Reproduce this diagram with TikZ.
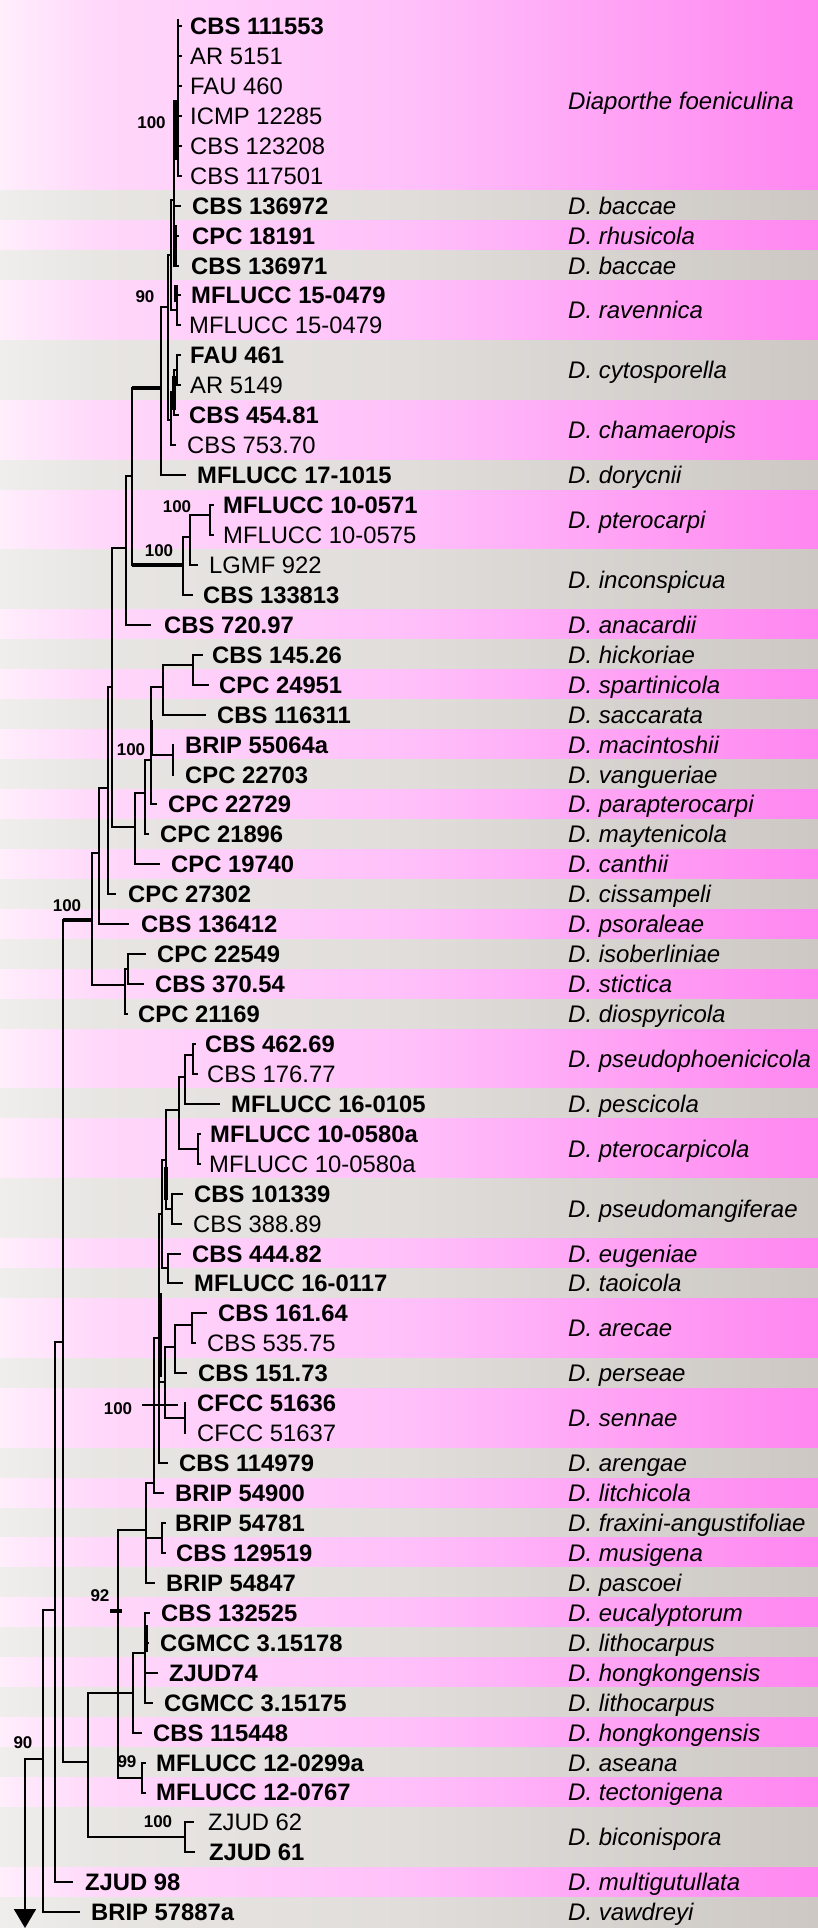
\documentclass[tikz,border=0pt]{standalone}
\usepackage{fontspec}
\setmainfont{Liberation Sans}
\usetikzlibrary{arrows.meta}
\definecolor{pkA}{RGB}{255,238,252}
\definecolor{pkB}{RGB}{255,216,250}
\definecolor{pkC}{RGB}{255,192,250}
\definecolor{pkD}{RGB}{255,134,240}
\definecolor{gyA}{RGB}{240,238,236}
\definecolor{gyB}{RGB}{232,230,227}
\definecolor{gyC}{RGB}{224,221,218}
\definecolor{gyD}{RGB}{205,200,196}
\pgfdeclarehorizontalshading{pinkband}{100bp}{color(0bp)=(pkA); color(25bp)=(pkA); color(31bp)=(pkB); color(50bp)=(pkC); color(75bp)=(pkD); color(100bp)=(pkD)}
\pgfdeclarehorizontalshading{grayband}{100bp}{color(0bp)=(gyA); color(25bp)=(gyA); color(31bp)=(gyB); color(50bp)=(gyC); color(75bp)=(gyD); color(100bp)=(gyD)}
\tikzset{
  br/.style={line width=1.8pt, line cap=rect},
  thk/.style={line width=4.5pt},
  tip/.style={anchor=base west, inner sep=0pt, font=\fontsize{23.8}{23.8}\selectfont},
  sp/.style={anchor=base west, inner sep=0pt, font=\fontsize{24}{24}\selectfont\itshape},
  bs/.style={anchor=base, inner sep=0pt, font=\fontsize{17}{17}\selectfont\bfseries},
}
\newcommand\vbr[3]{\draw[br] (#1,#2) -- (#1,#3);}
\newcommand\hbr[3]{\draw[br] (#1,#2) -- (#3,#2);}
\begin{document}
\begin{tikzpicture}[x=1pt,y=-1pt]
\useasboundingbox (0,0) rectangle (818,1928);
% background bands
\foreach \a/\b [count=\k] in {1/6,7/7,8/8,9/9,10/11,12/13,14/15,16/16,17/18,19/20,21/21,22/22,23/23,24/24,25/25,26/26,27/27,28/28,29/29,30/30,31/31,32/32,33/33,34/34,35/36,37/37,38/39,40/41,42/42,43/43,44/45,46/46,47/48,49/49,50/50,51/51,52/52,53/53,54/54,55/55,56/56,57/57,58/58,59/59,60/60,61/62,63/63,64/64}{
  \pgfmathsetmacro\yt{(\a==1)?0:(11.03+(\a-1)*29.94)}
  \pgfmathsetmacro\yb{(\b==64)?1928:(40.97+(\b-1)*29.94)}
  \ifodd\k
    \shade[shading=pinkband] (0,\yt) rectangle (818,\yb);
  \else
    \shade[shading=grayband] (0,\yt) rectangle (818,\yb);
  \fi
}
% species names
\foreach \a/\b/\s in {1/6/Diaporthe foeniculina,7/7/D. baccae,8/8/D. rhusicola,9/9/D. baccae,10/11/D. ravennica,12/13/D. cytosporella,14/15/D. chamaeropis,16/16/D. dorycnii,17/18/D. pterocarpi,19/20/D. inconspicua,21/21/D. anacardii,22/22/D. hickoriae,23/23/D. spartinicola,24/24/D. saccarata,25/25/D. macintoshii,26/26/D. vangueriae,27/27/D. parapterocarpi,28/28/D. maytenicola,29/29/D. canthii,30/30/D. cissampeli,31/31/D. psoraleae,32/32/D. isoberliniae,33/33/D. stictica,34/34/D. diospyricola,35/36/D. pseudophoenicicola,37/37/D. pescicola,38/39/D. pterocarpicola,40/41/D. pseudomangiferae,42/42/D. eugeniae,43/43/D. taoicola,44/45/D. arecae,46/46/D. perseae,47/48/D. sennae,49/49/D. arengae,50/50/D. litchicola,51/51/D. fraxini-angustifoliae,52/52/D. musigena,53/53/D. pascoei,54/54/D. eucalyptorum,55/55/D. lithocarpus,56/56/D. hongkongensis,57/57/D. lithocarpus,58/58/D. hongkongensis,59/59/D. aseana,60/60/D. tectonigena,61/62/D. biconispora,63/63/D. multigutullata,64/64/D. vawdreyi}{
  \pgfmathsetmacro\ym{26+((\a+\b)/2-1)*29.94+8.5}
  \node[sp] (sp\a) at (568,\ym) {\s};
}
% tip labels
\foreach \r/\x/\w/\t in {1/190/\bfseries/CBS 111553,2/190/\mdseries/AR 5151,3/190/\mdseries/FAU 460,4/190/\mdseries/ICMP 12285,5/190/\mdseries/CBS 123208,6/190/\mdseries/CBS 117501,7/192/\bfseries/CBS 136972,8/192/\bfseries/CPC 18191,9/191/\bfseries/CBS 136971,10/191/\bfseries/MFLUCC 15-0479,11/189/\mdseries/MFLUCC 15-0479,12/190/\bfseries/FAU 461,13/190/\mdseries/AR 5149,14/189/\bfseries/CBS 454.81,15/187/\mdseries/CBS 753.70,16/197/\bfseries/MFLUCC 17-1015,17/223/\bfseries/MFLUCC 10-0571,18/223/\mdseries/MFLUCC 10-0575,19/209/\mdseries/LGMF 922,20/203/\bfseries/CBS 133813,21/164/\bfseries/CBS 720.97,22/212/\bfseries/CBS 145.26,23/219/\bfseries/CPC 24951,24/217/\bfseries/CBS 116311,25/185/\bfseries/BRIP 55064a,26/185/\bfseries/CPC 22703,27/168/\bfseries/CPC 22729,28/160/\bfseries/CPC 21896,29/171/\bfseries/CPC 19740,30/128/\bfseries/CPC 27302,31/141/\bfseries/CBS 136412,32/157/\bfseries/CPC 22549,33/155/\bfseries/CBS 370.54,34/138/\bfseries/CPC 21169,35/205/\bfseries/CBS 462.69,36/207/\mdseries/CBS 176.77,37/231/\bfseries/MFLUCC 16-0105,38/210/\bfseries/MFLUCC 10-0580a,39/209/\mdseries/MFLUCC 10-0580a,40/194/\bfseries/CBS 101339,41/193/\mdseries/CBS 388.89,42/192/\bfseries/CBS 444.82,43/194/\bfseries/MFLUCC 16-0117,44/218/\bfseries/CBS 161.64,45/207/\mdseries/CBS 535.75,46/198/\bfseries/CBS 151.73,47/197/\bfseries/CFCC 51636,48/197/\mdseries/CFCC 51637,49/179/\bfseries/CBS 114979,50/175/\bfseries/BRIP 54900,51/175/\bfseries/BRIP 54781,52/176/\bfseries/CBS 129519,53/166/\bfseries/BRIP 54847,54/161/\bfseries/CBS 132525,55/160/\bfseries/CGMCC 3.15178,56/169/\bfseries/ZJUD74,57/164/\bfseries/CGMCC 3.15175,58/153/\bfseries/CBS 115448,59/156/\bfseries/MFLUCC 12-0299a,60/156/\bfseries/MFLUCC 12-0767,61/208/\mdseries/ZJUD 62,62/209/\bfseries/ZJUD 61,63/85/\bfseries/ZJUD 98,64/91/\bfseries/BRIP 57887a}{
  \pgfmathsetmacro\yy{26+(\r-1)*29.94+8.5}
  \node[tip] (t\r) at (\x,\yy) {\w\t};
}
% ---------------- tree: upper part ----------------
% D. foeniculina
\vbr{178}{20}{176}
\foreach \yy in {26,56,86,116,146,176}{\hbr{178}{\yy}{181}}
\draw[line width=3.5pt] (176.5,100) -- (176.5,160);
% baccae / rhusicola
\vbr{174}{101}{266} \hbr{174}{101}{178}
\hbr{174}{206}{180} \hbr{174}{236}{178} \hbr{174}{266}{178}
\draw[line width=3.5pt] (175.5,225) -- (175.5,266);
% ravennica
\vbr{177}{290}{325} \hbr{177}{295}{180} \hbr{177}{325}{180}
\draw[line width=3.5pt] (176,285) -- (176,302);
\vbr{171}{200}{310} \hbr{171}{200}{174} \hbr{171}{310}{177}
% cytosporella / chamaeropis
\vbr{177}{355}{385} \hbr{177}{355}{180} \hbr{177}{385}{180}
\vbr{174}{370}{415} \hbr{174}{370}{177} \hbr{174}{415}{178}
\draw[line width=3.5pt] (174,376) -- (174,410);
\vbr{171}{392}{445} \hbr{171}{392}{174} \hbr{171}{445}{175}
\vbr{168}{255}{420} \hbr{168}{255}{171} \hbr{168}{420}{171}
% dorycnii
\vbr{161}{307}{475} \hbr{161}{307}{168} \hbr{161}{475}{185}
% pterocarpi / inconspicua
\vbr{210}{505}{535} \hbr{210}{505}{213} \hbr{210}{535}{213}
\vbr{190}{515}{565} \hbr{190}{515}{210} \hbr{190}{565}{197}
\vbr{183}{537}{595} \hbr{183}{537}{190} \hbr{183}{595}{192}
\vbr{132}{388}{565}
\draw[thk] (132,388) -- (161,388);
\draw[thk] (132,565) -- (183,565);
% anacardii
\vbr{126}{476}{625} \hbr{126}{476}{132} \hbr{126}{625}{150}
\vbr{112}{548}{827} \hbr{112}{548}{126} \hbr{112}{827}{135}
% hickoriae clade
\vbr{193}{655}{685} \hbr{193}{655}{202} \hbr{193}{685}{208}
\vbr{163}{665}{715} \hbr{163}{665}{193} \hbr{163}{715}{205}
\vbr{173}{745}{775}
\vbr{151}{687}{804} \hbr{151}{687}{163} \hbr{151}{755}{173} \hbr{151}{804}{156}
\draw[line width=3.5pt] (151.5,720) -- (151.5,755);
\vbr{145}{760}{834} \hbr{145}{760}{151} \hbr{145}{834}{148}
\vbr{135}{793}{864} \hbr{135}{793}{145} \hbr{135}{864}{159}
% cissampeli / psoraleae
\vbr{108}{687}{894} \hbr{108}{687}{112} \hbr{108}{894}{115}
\vbr{99}{788}{924} \hbr{99}{788}{108} \hbr{99}{924}{128}
\vbr{92}{853}{985} \hbr{92}{853}{99} \hbr{92}{985}{125}
% isoberliniae group
\vbr{128}{954}{984} \hbr{128}{954}{145} \hbr{128}{984}{143}
\vbr{125}{969}{1014} \hbr{125}{969}{128} \hbr{125}{1014}{127}
% main
\vbr{63}{920}{1762}
\draw[thk] (63,920) -- (92,920);
\hbr{63}{1762}{88}
% ---------------- tree: lower part ----------------
\vbr{193}{1044}{1074} \hbr{193}{1044}{195} \hbr{193}{1074}{197}
\vbr{185}{1055}{1104} \hbr{185}{1055}{193} \hbr{185}{1104}{219}
\vbr{198}{1134}{1164} \hbr{198}{1134}{200} \hbr{198}{1164}{200}
\vbr{179}{1077}{1149} \hbr{179}{1077}{185} \hbr{179}{1149}{198}
\vbr{172}{1194}{1224} \hbr{172}{1194}{182} \hbr{172}{1224}{181}
\vbr{166}{1110}{1209} \hbr{166}{1110}{179} \hbr{166}{1209}{172}
\draw[line width=3.5pt] (166,1167) -- (166,1200);
\vbr{168}{1254}{1283} \hbr{168}{1254}{180} \hbr{168}{1283}{182}
\vbr{162}{1160}{1268} \hbr{162}{1160}{166} \hbr{162}{1268}{168}
\vbr{192}{1313}{1343} \hbr{192}{1313}{206} \hbr{192}{1343}{195}
\vbr{175}{1325}{1373} \hbr{175}{1325}{192} \hbr{175}{1373}{186}
\vbr{185}{1403}{1433}
\vbr{165}{1347}{1418} \hbr{165}{1347}{175} \hbr{165}{1418}{185}
\vbr{159}{1214}{1463} \hbr{159}{1214}{162} \hbr{159}{1382}{165} \hbr{159}{1463}{167}
\draw[line width=3.5pt] (160,1293) -- (160,1377);
\vbr{154}{1338}{1493} \hbr{154}{1338}{159} \hbr{154}{1493}{163}
\vbr{162}{1523}{1553} \hbr{162}{1523}{165} \hbr{162}{1553}{165}
\vbr{146}{1483}{1583} \hbr{146}{1483}{154} \hbr{146}{1538}{162} \hbr{146}{1583}{154}
% eucalyptorum ... hongkongensis
\vbr{145}{1613}{1703} \hbr{145}{1613}{149} \hbr{145}{1643}{148} \hbr{145}{1673}{157} \hbr{145}{1703}{152}
\draw[line width=3.5pt] (146,1625) -- (146,1652);
\vbr{133}{1653}{1733} \hbr{133}{1653}{145} \hbr{133}{1733}{141}
\vbr{142}{1763}{1793} \hbr{142}{1763}{145} \hbr{142}{1793}{145}
\vbr{118}{1530}{1778} \hbr{118}{1530}{146} \hbr{118}{1693}{133} \hbr{118}{1778}{142}
\draw[line width=4pt] (110,1611) -- (122,1611);
% biconispora
\vbr{185}{1822}{1852} \hbr{185}{1822}{193} \hbr{185}{1852}{194}
\vbr{88}{1693}{1837} \hbr{88}{1693}{118} \hbr{88}{1837}{185}
% outgroups and root
\vbr{55}{1342}{1882} \hbr{55}{1342}{63} \hbr{55}{1882}{72}
\vbr{43}{1610}{1912} \hbr{43}{1610}{55} \hbr{43}{1912}{79}
\hbr{25}{1759}{43}
\draw[line width=1.8pt, -{Triangle[width=22pt,length=19pt]}] (25,1759) -- (25,1928);
% leader line for 100 (sennae)
\draw[line width=1.8pt] (142,1405) -- (178,1405);
% support values
\node[bs] (b1) at (151.5,128.5) {100};
\node[bs] (b2) at (145,302) {90};
\node[bs] (b3) at (177,512) {100};
\node[bs] (b4) at (159,556) {100};
\node[bs] (b5) at (131,755) {100};
\node[bs] (b6) at (67,911) {100};
\node[bs] (b7) at (118,1414) {100};
\node[bs] (b8) at (100,1601) {92};
\node[bs] (b9) at (127,1767) {99};
\node[bs] (b10) at (158,1827) {100};
\node[bs] (b11) at (23,1748) {90};
\end{tikzpicture}
\end{document}
